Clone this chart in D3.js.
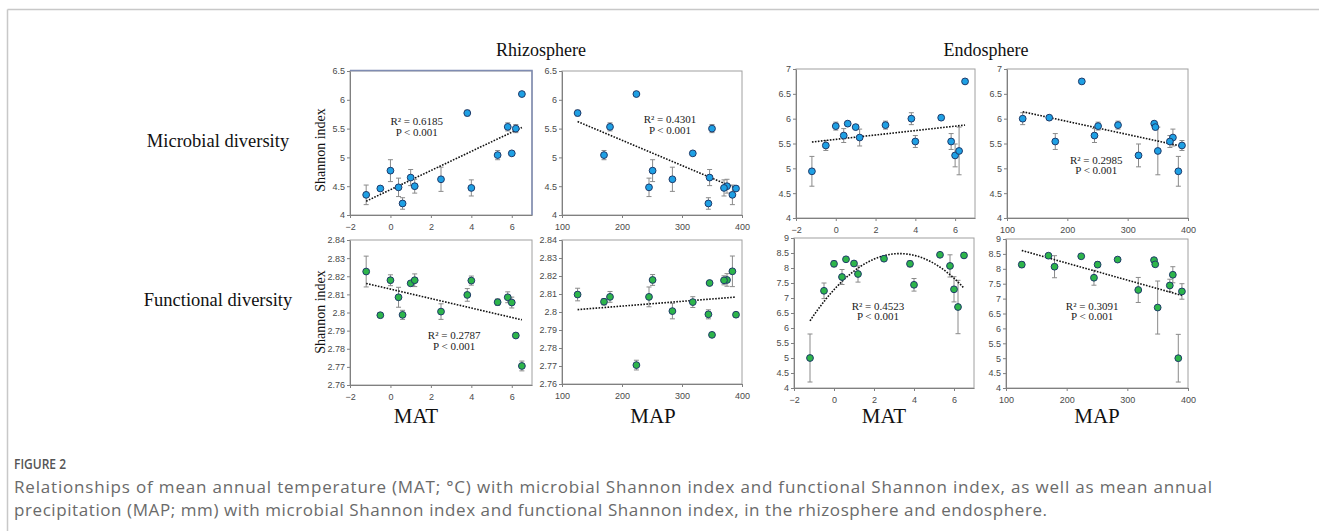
<!DOCTYPE html>
<html lang="en">
<head>
<meta charset="utf-8">
<title>Figure 2</title>
<script src="https://d3js.org/d3.v7.min.js"></script>
<style>
body { margin: 0; background: #fff; }
svg text { font-family: "Liberation Serif", "Times New Roman", serif; }
.tick text { font-family: "Liberation Sans", Arial, sans-serif; font-size: 9px; fill: #4a4a4a; }
.caption { font-family: "Open Sans", "Noto Sans", sans-serif; }
</style>
</head>
<body>
<svg id="svg" width="1319" height="531"></svg>
<script>
// 15 sampling sites, same order in every array
var mat = [-1.2, -0.5, 0, 0.4, 0.6, 1.0, 1.2, 2.5, 3.8, 4.0, 5.3, 5.8, 6.0, 6.2, 6.5];
var map = [384, 390, 251, 245, 344, 346, 375, 284, 126, 370, 170, 180, 318, 350, 224];

var rhizoMicro    = [4.35, 4.46, 4.77, 4.48, 4.20, 4.65, 4.50, 4.62, 5.77, 4.47, 5.04, 5.53, 5.07, 5.50, 6.10];
var rhizoMicroErr = [0.17, 0.03, 0.19, 0.16, 0.10, 0.14, 0.12, 0.21, 0.05, 0.14, 0.08, 0.07, 0.02, 0.07, 0];
var rhizoFunc     = [2.8226, 2.7985, 2.8178, 2.8084, 2.7987, 2.8161, 2.8178, 2.8005, 2.8097, 2.8176, 2.8057, 2.8084, 2.8055, 2.7873, 2.7705];
var rhizoFuncErr  = [0.0085, 0.0012, 0.003, 0.0055, 0.0025, 0.0008, 0.0035, 0.0043, 0.0035, 0.0025, 0.0018, 0.003, 0.003, 0.0005, 0.0027];
var endoMicro     = [4.94, 5.46, 5.85, 5.66, 5.90, 5.83, 5.62, 5.87, 6.00, 5.54, 6.02, 5.54, 5.26, 5.35, 6.75];
var endoMicroErr  = [0.30, 0.10, 0.08, 0.14, 0.03, 0.03, 0.17, 0.08, 0.12, 0.12, 0.02, 0.16, 0.23, 0.48, 0];
var endoFunc      = [5.00, 7.24, 8.14, 7.70, 8.29, 8.15, 7.80, 8.31, 8.14, 7.44, 8.44, 8.07, 7.29, 6.70, 8.42];
var endoFuncErr   = [0.80, 0.26, 0.10, 0.25, 0.03, 0.05, 0.27, 0.05, 0.10, 0.21, 0.03, 0.37, 0.42, 0.89, 0.02];

// tick labels
var matTicks = [-2, 0, 2, 4, 6];
var mapTicks = [100, 200, 300, 400];
var rhizoMicroTicks = [4, 4.5, 5, 5.5, 6, 6.5];
var rhizoFuncTicks = [2.76, 2.77, 2.78, 2.79, 2.8, 2.81, 2.82, 2.83, 2.84];
var endoMicroTicks = [4, 4.5, 5, 5.5, 6, 6.5, 7];
var endoFuncTicks = [4, 4.5, 5, 5.5, 6, 6.5, 7, 7.5, 8, 8.5, 9];

// fit statistics printed in the panels (null = not shown)
var r2Text = ["0.6185", "0.4301", null, "0.2985", "0.2787", null, "0.4523", "0.3091"];
var labelX = [1.3, 280, null, 248, 3.15, null, 2.2, 242];
var labelY = [5.63, 5.66, null, 5.17, 2.7875, null, 6.75, 6.76];

var blueFill = "#1ea0e4", greenFill = "#2db54a", ptStroke = "#1f3a6a";

var panels = [
  {x: mat, y: rhizoMicro, e: rhizoMicroErr, xd: [-2, 7], xt: matTicks, yt: rhizoMicroTicks, box: [350, 532, 71, 215], fill: blueFill, fit: 1},
  {x: map, y: rhizoMicro, e: rhizoMicroErr, xd: [100, 400], xt: mapTicks, yt: rhizoMicroTicks, box: [562, 742, 71, 215], fill: blueFill, fit: 1},
  {x: mat, y: endoMicro, e: endoMicroErr, xd: [-2, 7], xt: matTicks, yt: endoMicroTicks, box: [796, 975, 69, 218], fill: blueFill, fit: 1},
  {x: map, y: endoMicro, e: endoMicroErr, xd: [100, 400], xt: mapTicks, yt: endoMicroTicks, box: [1007, 1188, 69, 218], fill: blueFill, fit: 1},
  {x: mat, y: rhizoFunc, e: rhizoFuncErr, xd: [-2, 7], xt: matTicks, yt: rhizoFuncTicks, box: [350, 532, 240, 385], fill: greenFill, fit: 1},
  {x: map, y: rhizoFunc, e: rhizoFuncErr, xd: [100, 400], xt: mapTicks, yt: rhizoFuncTicks, box: [562, 742, 240, 384], fill: greenFill, fit: 1},
  {x: mat, y: endoFunc, e: endoFuncErr, xd: [-2, 7], xt: matTicks, yt: endoFuncTicks, box: [794, 974, 238, 388], fill: greenFill, fit: 2},
  {x: map, y: endoFunc, e: endoFuncErr, xd: [100, 400], xt: mapTicks, yt: endoFuncTicks, box: [1006, 1188, 239, 388], fill: greenFill, fit: 1}
];

// least squares polynomial (degree 1 or 2)
function polyFit(xs, ys, deg) {
  var n = deg + 1, A = [], b = [];
  for (var r = 0; r < n; r++) {
    A.push([]);
    for (var c = 0; c < n; c++) A[r].push(d3.sum(xs, function(x) { return Math.pow(x, r + c); }));
    b.push(d3.sum(xs, function(x, i) { return ys[i] * Math.pow(x, r); }));
  }
  for (var i = 0; i < n; i++) {
    for (var k = i + 1; k < n; k++) {
      var f = A[k][i] / A[i][i];
      for (var j = i; j < n; j++) A[k][j] -= f * A[i][j];
      b[k] -= f * b[i];
    }
  }
  var coef = new Array(n);
  for (var i = n - 1; i >= 0; i--) {
    var s = b[i];
    for (var j = i + 1; j < n; j++) s -= A[i][j] * coef[j];
    coef[i] = s / A[i][i];
  }
  return function(x) { return d3.sum(coef, function(c, p) { return c * Math.pow(x, p); }); };
}

var svg = d3.select("#svg");

// page frame
svg.append("line").attr("x1", 7.5).attr("x2", 1319).attr("y1", 9.5).attr("y2", 9.5).attr("stroke", "#c8c8c8").attr("stroke-width", 1.5);
svg.append("line").attr("x1", 7.5).attr("x2", 7.5).attr("y1", 9.5).attr("y2", 531).attr("stroke", "#c8c8c8").attr("stroke-width", 1.5);

panels.forEach(function(p, idx) {
  var x = d3.scaleLinear().domain(p.xd).range([p.box[0], p.box[1]]);
  var y = d3.scaleLinear().domain([p.yt[0], p.yt[p.yt.length - 1]]).range([p.box[3], p.box[2]]);
  var g = svg.append("g");

  g.append("rect")
    .attr("x", p.box[0]).attr("y", p.box[2])
    .attr("width", p.box[1] - p.box[0]).attr("height", p.box[3] - p.box[2])
    .attr("fill", "none").attr("stroke", "#a0a0a0");

  if (idx == 0) {
    // selected chart outline in the source figure
    g.append("path")
      .attr("d", "M" + p.box[0] + "," + (p.box[2] - 0.5) + "H" + p.box[1] + "V" + p.box[3])
      .attr("fill", "none").attr("stroke", "#7f8cb2").attr("stroke-width", 1.5);
  }

  var xAxis = g.append("g").attr("transform", "translate(0," + p.box[3] + ")")
    .call(d3.axisBottom(x).tickValues(p.xt).tickSize(3).tickSizeOuter(0).tickFormat(d3.format("~g")));
  var yAxis = g.append("g").attr("transform", "translate(" + p.box[0] + ",0)")
    .call(d3.axisLeft(y).tickValues(p.yt).tickSize(3).tickSizeOuter(0).tickFormat(d3.format("~g")));
  [xAxis, yAxis].forEach(function(a) {
    a.select(".domain").attr("stroke", "#808080");
    a.selectAll(".tick line").attr("stroke", "#808080");
  });
  xAxis.selectAll(".tick text").attr("dy", "0.95em");
  yAxis.selectAll(".tick text").attr("x", -5);

  // error bars
  var eb = g.append("g").attr("stroke", "#8a8a8a").attr("stroke-width", 1);
  p.x.forEach(function(xv, i) {
    if (!p.e[i]) return;
    var cx = x(xv), y0 = y(p.y[i] - p.e[i]), y1 = y(p.y[i] + p.e[i]);
    eb.append("line").attr("x1", cx).attr("x2", cx).attr("y1", y0).attr("y2", y1);
    eb.append("line").attr("x1", cx - 2.5).attr("x2", cx + 2.5).attr("y1", y0).attr("y2", y0);
    eb.append("line").attr("x1", cx - 2.5).attr("x2", cx + 2.5).attr("y1", y1).attr("y2", y1);
  });

  // trend line
  var f = polyFit(p.x, p.y, p.fit);
  var ext = d3.extent(p.x);
  var pts = d3.range(0, 61).map(function(k) { var xv = ext[0] + (ext[1] - ext[0]) * k / 60; return [xv, f(xv)]; });
  g.append("path")
    .attr("d", d3.line().x(function(d) { return x(d[0]); }).y(function(d) { return y(d[1]); })(pts))
    .attr("fill", "none").attr("stroke", "#111").attr("stroke-width", 1.6).attr("stroke-dasharray", "1.6,1.4");

  // points
  g.selectAll("circle.pt").data(p.x).enter().append("circle")
    .attr("cx", function(d) { return x(d); })
    .attr("cy", function(d, i) { return y(p.y[i]); })
    .attr("r", 3.4)
    .attr("fill", p.fill).attr("stroke", ptStroke).attr("stroke-width", 1);

  if (r2Text[idx]) {
    var t = g.append("text").attr("text-anchor", "middle").attr("font-size", 11).attr("fill", "#222");
    t.append("tspan").attr("x", x(labelX[idx])).attr("y", y(labelY[idx]) + 4).text("R\u00b2 = " + r2Text[idx]);
    t.append("tspan").attr("x", x(labelX[idx])).attr("dy", 10.5).text("P < 0.001");
  }
});

// headings
var head = [["Rhizosphere", 541, 56], ["Endosphere", 986, 56]];
head.forEach(function(h) {
  svg.append("text").attr("x", h[1]).attr("y", h[2]).attr("text-anchor", "middle").attr("font-size", 18).attr("fill", "#111").text(h[0]);
});
var rowLab = [["Microbial diversity", 218, 147], ["Functional diversity", 218, 306]];
rowLab.forEach(function(h) {
  svg.append("text").attr("x", h[1]).attr("y", h[2]).attr("text-anchor", "middle").attr("font-size", 18.5).attr("fill", "#111").text(h[0]);
});
[150, 312].forEach(function(cy) {
  svg.append("text").attr("transform", "translate(325," + cy + ") rotate(-90)")
    .attr("text-anchor", "middle").attr("font-size", 14).attr("fill", "#111").text("Shannon index");
});
var xLab = [["MAT", 416], ["MAP", 653], ["MAT", 884], ["MAP", 1097]];
xLab.forEach(function(h) {
  svg.append("text").attr("x", h[1]).attr("y", 423).attr("text-anchor", "middle").attr("font-size", 21).attr("fill", "#111").text(h[0]);
});

// caption
svg.append("text").attr("class", "caption").attr("x", 14).attr("y", 469)
  .attr("font-size", 13.5).attr("font-weight", 600).attr("fill", "#555")
  .attr("textLength", 52).attr("lengthAdjust", "spacingAndGlyphs").text("FIGURE 2");
var capLines = [
  "Relationships of mean annual temperature (MAT; \u00b0C) with microbial Shannon index and functional Shannon index, as well as mean annual",
  "precipitation (MAP; mm) with microbial Shannon index and functional Shannon index, in the rhizosphere and endosphere."
];
var capWidth = [1198, 1033];
capLines.forEach(function(s, i) {
  svg.append("text").attr("class", "caption").attr("x", 14).attr("y", 493 + i * 23)
    .attr("font-size", 17).attr("fill", "#6a6a6a")
    .attr("textLength", capWidth[i]).attr("lengthAdjust", "spacing").text(s);
});
</script>
</body>
</html>
